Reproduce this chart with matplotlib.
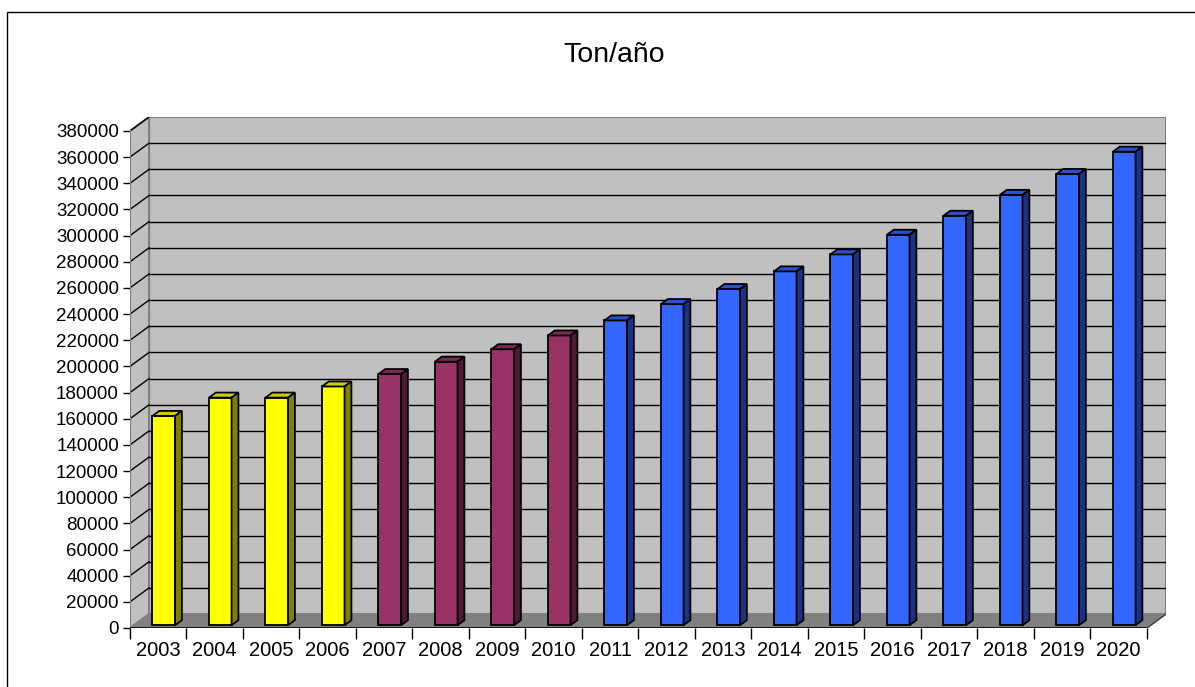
import matplotlib
matplotlib.use("Agg")
import matplotlib.pyplot as plt
from matplotlib.patches import Polygon, Rectangle
import numpy as np

plt.rcParams['font.family'] = ['Liberation Sans', 'DejaVu Sans']

# data
years = [str(y) for y in range(2003, 2021)]
tons = [160000, 174000, 174000, 182500, 192000, 201500, 211000, 221500,
        233000, 245500, 257000, 270500, 283500, 298500, 313000, 329000,
        345000, 362000]
groups = ["hist"] * 4 + ["mid"] * 4 + ["proj"] * 10

# front / top / side shades per group
FACE = {"hist": "#FFFF00", "mid": "#993366", "proj": "#3366FF"}
TOP = {"hist": "#CCCC00", "mid": "#7A2952", "proj": "#2952CC"}
SIDE = {"hist": "#808000", "mid": "#4D1A33", "proj": "#1A3380"}

YMAX = 380000
YSTEP = 20000
DX = 0.337      # depth offset in category units
DY = 10660      # depth offset in value units
BAR_W = 0.4
F0, F1 = 0.2, 0.56   # bar front / back depth fraction
BAR_SHIFT = 0.03

fig = plt.figure(figsize=(11.95, 6.87), dpi=100)
W, H = 1195, 687
ax = fig.add_axes([130 / W, (H - 628) / H, 1036 / W, 511 / H])
n = len(years)
ax.set_xlim(0, n + DX)
ax.set_ylim(0, YMAX + DY)
for s in ax.spines.values():
    s.set_visible(False)
ax.patch.set_alpha(0)

# walls and floor
ax.add_patch(Polygon([(DX, DY), (n + DX, DY), (n + DX, YMAX + DY), (DX, YMAX + DY)],
                     closed=True, fc="#C0C0C0", ec="#808080", lw=1.5, zorder=0))
ax.add_patch(Polygon([(0, 0), (DX, DY), (DX, YMAX + DY), (0, YMAX)],
                     closed=True, fc="#C0C0C0", ec="#808080", lw=1.5, zorder=0))
ax.add_patch(Polygon([(0, 0), (n, 0), (n + DX, DY), (DX, DY)],
                     closed=True, fc="#808080", ec="#808080", lw=1, zorder=1))

ticks = np.arange(0, YMAX + 1, YSTEP)
for v in ticks[1:-1]:
    ax.plot([DX, n + DX], [v + DY, v + DY], color="black", lw=1, zorder=0.5)
for v in ticks[1:]:
    ax.plot([0, DX], [v, v + DY], color="black", lw=1, zorder=0.5)

# front axes lines
ax.plot([0, 0], [0, YMAX], color="#808080", lw=1.5, zorder=2)
ax.plot([0, n], [0, 0], color="black", lw=1.2, zorder=2)
ax.plot([n, n + DX], [0, DY], color="#404040", lw=1, zorder=2)

# bars
x = np.arange(n) + 0.5
left = x - BAR_W / 2 + F0 * DX + BAR_SHIFT
base = F0 * DY
face_colors = [FACE[g] for g in groups]
ax.bar(left, tons, width=BAR_W, bottom=base, align="edge", color=face_colors,
       edgecolor="black", linewidth=1.3, zorder=3)
sdx, sdy = (F1 - F0) * DX, (F1 - F0) * DY
for xl, v, g in zip(left, tons, groups):
    top = v + base
    xr = xl + BAR_W
    ax.add_patch(Polygon([(xl, top), (xr, top), (xr + sdx, top + sdy), (xl + sdx, top + sdy)],
                         closed=True, fc=TOP[g], ec="black", lw=1.3, zorder=3))
    ax.add_patch(Polygon([(xr, base), (xr, top), (xr + sdx, top + sdy), (xr + sdx, base + sdy)],
                         closed=True, fc=SIDE[g], ec="black", lw=1.3, zorder=3))

# ticks and labels
ax.set_yticks(ticks)
ax.set_yticklabels([str(int(t)) for t in ticks], fontsize=13.5)
ax.tick_params(axis="y", direction="out", length=5, width=1, color="black", pad=3)
ax.set_xticks(np.arange(n + 1))
ax.set_xticklabels([])
ax.tick_params(axis="x", which="major", direction="out", length=8, width=1, color="black")
ax.set_xticks(x, minor=True)
ax.set_xticklabels(years, minor=True, fontsize=14.5)
ax.tick_params(axis="x", which="minor", length=0, pad=9)

# chart border and title
fig.add_artist(Rectangle((7 / W, -0.5), 2, 0.5 + (H - 12) / H, transform=fig.transFigure,
                         fill=False, ec="black", lw=1))
fig.text(614 / W, 1 - 55 / H, "Ton/año", ha="center", va="center", fontsize=20.5)

fig.savefig("out.png", dpi=100)
